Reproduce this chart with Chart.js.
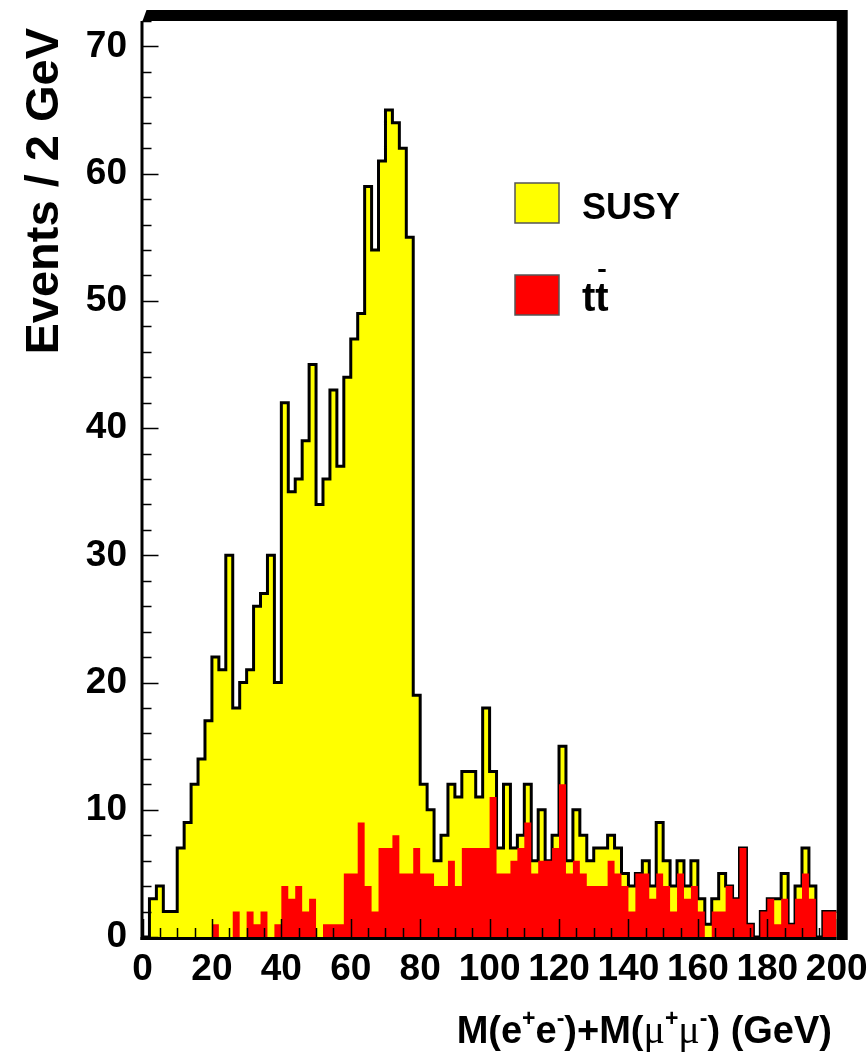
<!DOCTYPE html>
<html>
<head>
<meta charset="utf-8">
<script src="https://cdn.jsdelivr.net/npm/chart.js@4.4.1/dist/chart.umd.min.js"></script>
<style>
  html, body { margin: 0; padding: 0; background: #fff; }
  canvas { display: block; }
</style>
</head>
<body>
<canvas id="massChart" width="867" height="1063"></canvas>
<script>
// 2 GeV bins from 0 to 200 GeV
const binWidth = 2;
const xRange = [0, 200];
const yRange = [0, 72];
const xTickLabels = [0, 20, 40, 60, 80, 100, 120, 140, 160, 180, 200];
const yTickLabels = [0, 10, 20, 30, 40, 50, 60, 70];

// stacked total (SUSY + tt) per bin
const susyTotal = [
  0, 3, 4, 2, 2, 7, 9, 12, 14, 17,
  22, 21, 30, 18, 20, 21, 26, 27, 30, 20,
  42, 35, 36, 39, 45, 34, 36, 43, 37, 44,
  47, 49, 59, 54, 61, 65, 64, 62, 55, 19,
  12, 10, 6, 8, 12, 11, 13, 13, 11, 18,
  13, 7, 12, 7, 8, 12, 6, 10, 6, 8,
  15, 6, 10, 8, 6, 7, 7, 8, 7, 5,
  4, 5, 6, 4, 9, 6, 4, 6, 4, 6,
  3, 1, 3, 5, 4, 3, 7, 1, 0, 2,
  3, 3, 5, 1, 4, 7, 4, 0, 2, 2
];

// tt background per bin
const ttbar = [
  0, 0, 0, 0, 0, 0, 0, 0, 0, 0,
  1, 0, 0, 2, 0, 2, 1, 2, 0, 1,
  4, 3, 4, 2, 3, 0, 1, 1, 1, 5,
  5, 9, 4, 2, 7, 7, 8, 5, 5, 7,
  5, 5, 4, 4, 6, 4, 7, 7, 7, 7,
  11, 5, 5, 6, 7, 9, 5, 6, 6, 7,
  12, 5, 6, 5, 4, 4, 4, 6, 5, 4,
  2, 5, 5, 3, 5, 4, 2, 5, 3, 4,
  2, 0, 2, 2, 4, 3, 7, 1, 0, 2,
  3, 1, 3, 1, 3, 5, 3, 0, 2, 2
];

// histogram as step points at the lower bin edges, closed at the last edge
function toSteps(counts) {
  const pts = counts.map((c, i) => ({ x: i * binWidth, y: c }));
  pts.push({ x: counts.length * binWidth, y: counts[counts.length - 1] });
  return pts;
}

const FONT = '"Liberation Sans", Arial, Helvetica, sans-serif';

const framePlugin = {
  id: 'rootFrame',
  afterDraw(chart) {
    const { ctx, chartArea: ca, scales } = chart;
    const xs = scales.x, ys = scales.y;
    ctx.save();
    ctx.fillStyle = '#000';

    // thin left and bottom axes
    ctx.fillRect(ca.left - 2, ca.top, 3, ca.bottom - ca.top + 3);
    ctx.fillRect(ca.left - 2, ca.bottom, ca.right - ca.left + 2, 3);

    // heavy top and right edges of the frame
    ctx.beginPath();
    ctx.moveTo(ca.left, ca.top);
    ctx.lineTo(ca.left + 4, ca.top - 11);
    ctx.lineTo(ca.right + 11, ca.top - 11);
    ctx.lineTo(ca.right + 11, ca.bottom + 3);
    ctx.lineTo(ca.right, ca.bottom + 3);
    ctx.lineTo(ca.right, ca.top);
    ctx.closePath();
    ctx.fill();

    // inward ticks
    ctx.strokeStyle = '#000';
    ctx.lineWidth = 1.5;
    ctx.beginPath();
    for (let v = 0; v <= yRange[1]; v += 2) {
      const y = Math.round(ys.getPixelForValue(v)) + 0.5;
      const len = v % 10 === 0 ? 16 : 9;
      ctx.moveTo(ca.left, y);
      ctx.lineTo(ca.left + len, y);
    }
    for (let v = 0; v <= xRange[1]; v += 5) {
      const x = Math.round(xs.getPixelForValue(v)) + 0.5;
      const len = v % 20 === 0 ? 18 : 9;
      ctx.moveTo(x, ca.bottom);
      ctx.lineTo(x, ca.bottom - len);
    }
    ctx.stroke();

    // tick labels
    ctx.font = 'bold 37px ' + FONT;
    ctx.textAlign = 'right';
    ctx.textBaseline = 'middle';
    yTickLabels.forEach(v => ctx.fillText(String(v), 127, ys.getPixelForValue(v)));
    ctx.textAlign = 'center';
    ctx.textBaseline = 'alphabetic';
    xTickLabels.forEach(v => ctx.fillText(String(v), xs.getPixelForValue(v), 980));

    // y title
    ctx.save();
    ctx.translate(58, 28);
    ctx.rotate(-Math.PI / 2);
    ctx.font = 'bold 47px ' + FONT;
    ctx.textAlign = 'right';
    ctx.fillText('Events / 2 GeV', 0, 0);
    ctx.restore();

    // x title with superscripts
    const base = 'bold 38px ' + FONT;
    const sup = 'bold 23px ' + FONT;
    const greek = '40px "Liberation Serif", "DejaVu Serif", serif';
    const parts = [
      { t: 'M(e', f: base, dy: 0 },
      { t: '+', f: sup, dy: -17 },
      { t: 'e', f: base, dy: 0 },
      { t: '-', f: sup, dy: -17 },
      { t: ')+M(', f: base, dy: 0 },
      { t: '\u03bc', f: greek, dy: 0 },
      { t: '+', f: sup, dy: -17 },
      { t: '\u03bc', f: greek, dy: 0 },
      { t: '-', f: sup, dy: -17 },
      { t: ') (GeV)', f: base, dy: 0 }
    ];
    let total = 0;
    parts.forEach(p => { ctx.font = p.f; p.w = ctx.measureText(p.t).width; total += p.w; });
    let px = 832 - total;
    const baseY = 1043;
    ctx.textAlign = 'left';
    parts.forEach(p => { ctx.font = p.f; ctx.fillText(p.t, px, baseY + p.dy); px += p.w; });

    // legend
    const entries = [
      { label: 'SUSY', color: '#ffff00', top: 183, size: 36 },
      { label: 'tt', color: '#ff0000', top: 275, size: 40, bar: true }
    ];
    entries.forEach(e => {
      ctx.fillStyle = e.color;
      ctx.fillRect(515, e.top, 44, 40);
      ctx.strokeStyle = '#555';
      ctx.lineWidth = 1.5;
      ctx.strokeRect(515, e.top, 44, 40);
      ctx.fillStyle = '#000';
      ctx.font = 'bold ' + e.size + 'px ' + FONT;
      ctx.fillText(e.label, 582, e.top + 36);
      if (e.bar) {
        const wt = ctx.measureText('t').width;
        ctx.fillRect(582 + wt + 3, e.top - 6, wt - 6, 3);
      }
    });
    ctx.restore();
  }
};

new Chart(document.getElementById('massChart'), {
  type: 'line',
  data: {
    datasets: [
      {
        label: 'tt',
        data: toSteps(ttbar),
        stepped: 'before',
        fill: 'origin',
        backgroundColor: '#ff0000',
        borderColor: 'rgba(0,0,0,0)',
        borderWidth: 0,
        pointRadius: 0,
        order: 1
      },
      {
        label: 'SUSY',
        data: toSteps(susyTotal),
        stepped: 'before',
        fill: 'origin',
        backgroundColor: '#ffff00',
        borderColor: '#000',
        borderWidth: 3,
        pointRadius: 0,
        order: 2
      }
    ]
  },
  options: {
    responsive: false,
    animation: false,
    devicePixelRatio: 1,
    layout: { padding: { left: 0, right: 30.3, top: 21, bottom: 0 } },
    plugins: {
      legend: { display: false },
      tooltip: { enabled: false }
    },
    scales: {
      x: {
        type: 'linear',
        min: xRange[0],
        max: xRange[1],
        grid: { display: false, drawTicks: false },
        border: { display: false },
        ticks: { display: false },
        afterFit: s => { s.height = 126; }
      },
      y: {
        min: yRange[0],
        max: yRange[1],
        grid: { display: false, drawTicks: false },
        border: { display: false },
        ticks: { display: false },
        afterFit: s => { s.width = 142.5; }
      }
    }
  },
  plugins: [framePlugin]
});
</script>
</body>
</html>
